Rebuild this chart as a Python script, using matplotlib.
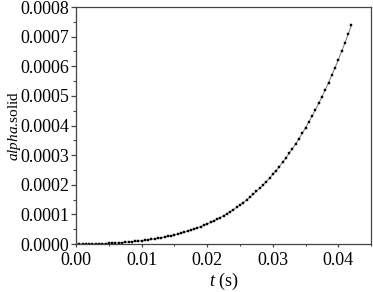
#!/usr/bin/env python3
"""alpha.solid growth vs time (recreated line + square markers)."""
import matplotlib

matplotlib.use("Agg")
import matplotlib.pyplot as plt
from matplotlib.ticker import MultipleLocator

plt.rcParams["font.family"] = ["Liberation Serif", "DejaVu Serif"]
plt.rcParams["mathtext.fontset"] = "custom"
plt.rcParams["mathtext.rm"] = "Liberation Serif"
plt.rcParams["mathtext.it"] = "Liberation Serif:italic"

# time in ms (sample every 0.5 ms)
T_MS = [
    0.0, 0.5, 1.0, 1.5, 2.0, 2.5, 3.0, 3.5, 4.0, 4.5,
    5.0, 5.5, 6.0, 6.5, 7.0, 7.5, 8.0, 8.5, 9.0, 9.5,
    10.0, 10.5, 11.0, 11.5, 12.0, 12.5, 13.0, 13.5, 14.0, 14.5,
    15.0, 15.5, 16.0, 16.5, 17.0, 17.5, 18.0, 18.5, 19.0, 19.5,
    20.0, 20.5, 21.0, 21.5, 22.0, 22.5, 23.0, 23.5, 24.0, 24.5,
    25.0, 25.5, 26.0, 26.5, 27.0, 27.5, 28.0, 28.5, 29.0, 29.5,
    30.0, 30.5, 31.0, 31.5, 32.0, 32.5, 33.0, 33.5, 34.0, 34.5,
    35.0, 35.5, 36.0, 36.5, 37.0, 37.5, 38.0, 38.5, 39.0, 39.5,
    40.0, 40.5, 41.0, 41.5, 42.0,
]
# alpha.solid in units of 1e-6
ALPHA_U = [
    0.0, 0.02, 0.10, 0.22, 0.39, 0.61, 0.89, 1.22, 1.60, 2.04,
    2.54, 3.10, 3.73, 4.42, 5.19, 6.03, 6.96, 7.96, 9.05, 10.2,
    11.5, 12.9, 14.4, 16.0, 17.8, 19.6, 21.6, 23.7, 26.0, 28.5,
    31.1, 33.8, 36.8, 39.9, 43.3, 46.8, 50.6, 54.6, 58.8, 63.3,
    68.0, 73.0, 78.3, 83.8, 89.7, 95.9, 102.4, 109.2, 116.4, 124.0,
    131.9, 140.2, 149.0, 158.1, 167.7, 177.7, 188.2, 199.2, 210.7, 222.6,
    235.1, 248.2, 261.8, 275.9, 290.7, 306.1, 322.1, 338.7, 356.0, 374.0,
    392.7, 412.1, 432.2, 453.2, 474.8, 497.3, 520.6, 544.7, 569.7, 595.6,
    622.4, 650.1, 678.8, 708.4, 739.0,
]

t = [v * 1e-3 for v in T_MS]
alpha = [v * 1e-6 for v in ALPHA_U]

fig = plt.figure(figsize=(3.73, 2.92), dpi=100)
ax = fig.add_axes([0.204, 0.164, 0.791, 0.812])

ax.plot(t, alpha, color="#777777", lw=0.7, marker="s", ms=1.6,
        mfc="black", mec="black", mew=0.3)

ax.set_xlim(0, 0.045)
ax.set_ylim(0, 0.0008)
ax.xaxis.set_major_locator(MultipleLocator(0.01))
ax.xaxis.set_minor_locator(MultipleLocator(0.005))
ax.yaxis.set_major_locator(MultipleLocator(0.0001))
ax.yaxis.set_minor_locator(MultipleLocator(0.00005))
ax.xaxis.set_major_formatter(lambda v, p: f"{v:.2f}")
ax.yaxis.set_major_formatter(lambda v, p: f"{v:.4f}")
ax.tick_params(which="both", direction="out", top=False, right=False,
               labelsize=13, color="#444444")
ax.tick_params(axis="y", which="major", length=3.6, width=0.9, pad=1.5)
ax.tick_params(axis="y", which="minor", length=2, width=0.8)
ax.tick_params(axis="x", which="major", length=2.4, width=0.9, pad=3.5)
ax.tick_params(axis="x", which="minor", length=1.5, width=0.8)
for s in ax.spines.values():
    s.set_color("#444444")
    s.set_linewidth(0.9)

ax.set_xlabel(r"$\mathit{t}$ (s)", fontsize=13, labelpad=1)
ax.set_ylabel(r"$\mathit{alpha}$.solid", fontsize=11)
ax.yaxis.set_label_coords(-0.18, 0.5)

fig.savefig("out.png", dpi=100, facecolor="white")
